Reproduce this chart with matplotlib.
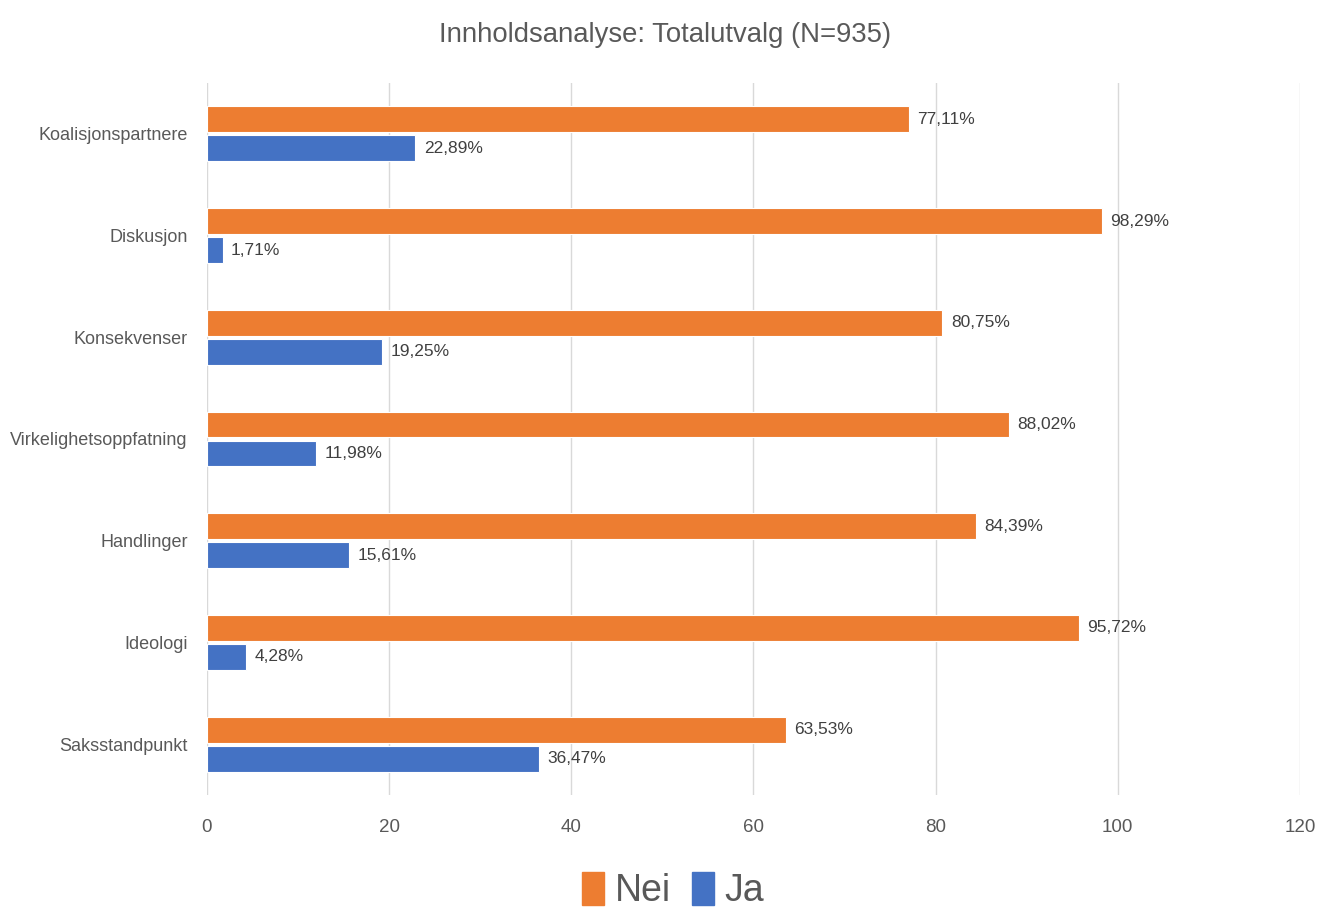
import matplotlib
matplotlib.use("Agg")
import matplotlib.pyplot as plt
import numpy as np
from matplotlib.patches import Patch

categories = ["Koalisjonspartnere", "Diskusjon", "Konsekvenser", "Virkelighetsoppfatning",
              "Handlinger", "Ideologi", "Saksstandpunkt"]
nei = [77.11, 98.29, 80.75, 88.02, 84.39, 95.72, 63.53]
ja = [22.89, 1.71, 19.25, 11.98, 15.61, 4.28, 36.47]
xticks = [0, 20, 40, 60, 80, 100, 120]
title = "Innholdsanalyse: Totalutvalg (N=935)"

plt.rcParams['font.family'] = ['Liberation Sans', 'DejaVu Sans']
TXT = "#595959"
ORANGE = "#ED7D31"
BLUE = "#4472C4"

fig = plt.figure(figsize=(13.3, 9.1), dpi=100)
ax = fig.add_axes([0.1556, 0.1264, 0.8218, 0.7824])

y = np.arange(len(categories))
h = 0.255
gap = 0.015
ax.barh(y - h / 2 - gap, nei, height=h, color=ORANGE, edgecolor="white", linewidth=0.8, zorder=3)
ax.barh(y + h / 2 + gap, ja, height=h, color=BLUE, edgecolor="white", linewidth=0.8, zorder=3)

def fmt(v):
    return f"{v:.2f}".replace(".", ",") + "%"

for yi, v in zip(y, nei):
    ax.annotate(fmt(v), (v, yi - h / 2 - gap), xytext=(6, 0), textcoords="offset points",
                va="center", ha="left", fontsize=12.5, color="#404040")
for yi, v in zip(y, ja):
    ax.annotate(fmt(v), (v, yi + h / 2 + gap), xytext=(6, 0), textcoords="offset points",
                va="center", ha="left", fontsize=12.5, color="#404040")

ax.set_ylim(len(categories) - 0.5, -0.5)
ax.set_xlim(0, 120)
ax.set_xticks(xticks)
ax.set_yticks(y)
ax.set_yticklabels(categories)
ax.tick_params(axis="y", length=0, colors=TXT, labelsize=13, pad=14)
ax.tick_params(axis="x", length=0, colors=TXT, labelsize=13.5, pad=17)
ax.xaxis.grid(True, color="#D9D9D9", linewidth=1, zorder=0)
for s in ax.spines.values():
    s.set_visible(False)

fig.text(0.5, 0.962, title, ha="center", va="center", fontsize=19.8, color=TXT)

handles = [Patch(color=ORANGE, label="Nei"), Patch(color=BLUE, label="Ja")]
fig.legend(handles=handles, loc="center", bbox_to_anchor=(0.506, 0.021), ncol=2, frameon=False,
           fontsize=27, labelcolor=TXT, handlelength=0.6, handleheight=0.95, handletextpad=0.28,
           columnspacing=0.55, borderpad=0)

fig.savefig("out.png", dpi=100)
